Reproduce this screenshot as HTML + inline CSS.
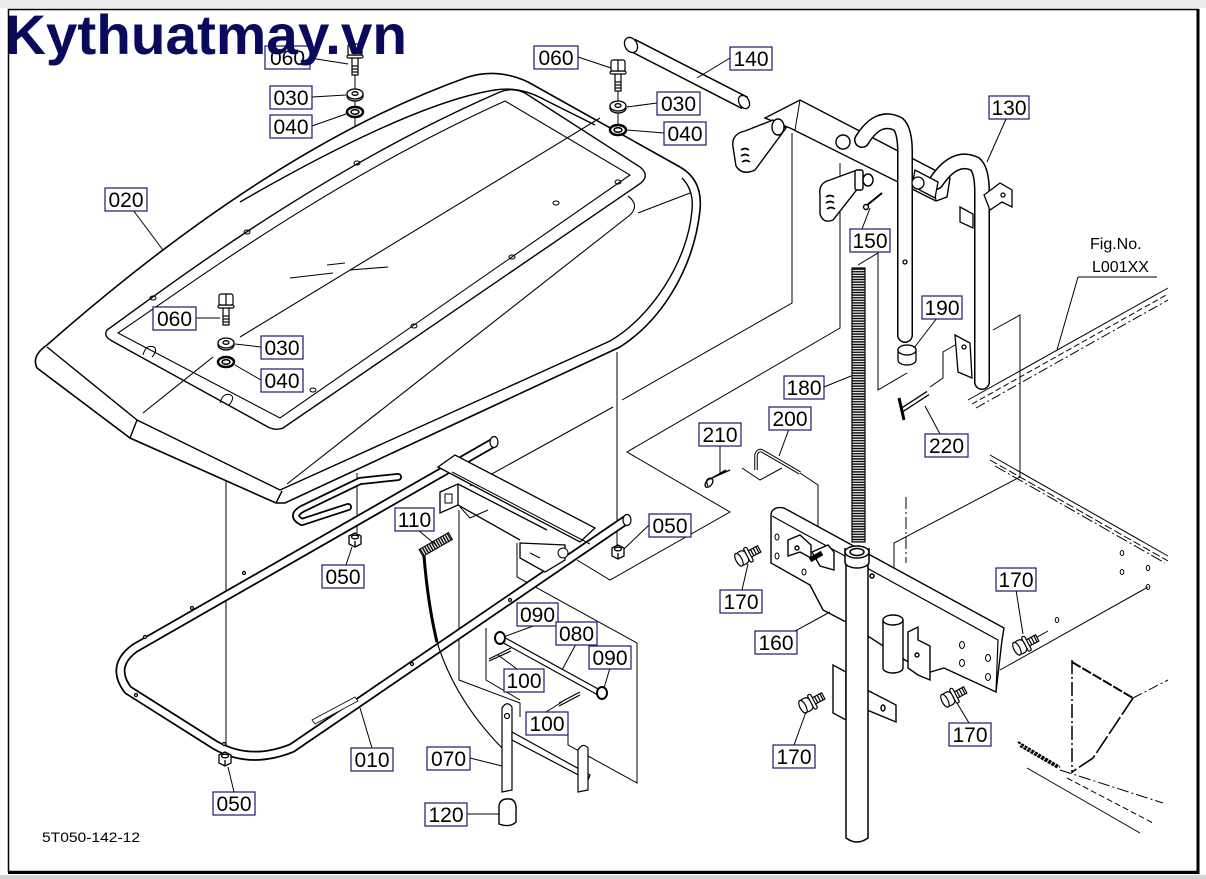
<!DOCTYPE html>
<html><head><meta charset="utf-8"><style>
html,body{margin:0;padding:0;background:#fff;}
svg{display:block;}
.l rect{fill:#fff;stroke:#1c1c6b;stroke-width:1.2}
.l text{font-family:"Liberation Sans",sans-serif;font-size:21px;text-anchor:middle;fill:#000}
</style></head><body>
<svg width="1206" height="879" viewBox="0 0 1206 879" xmlns="http://www.w3.org/2000/svg">
<defs>
<pattern id="coil" width="14" height="2.6" patternUnits="userSpaceOnUse"><line x1="0" y1="1.3" x2="14" y2="1.3" stroke="#000" stroke-width="1.4"/></pattern>
<pattern id="coilv" width="2.6" height="10" patternUnits="userSpaceOnUse"><line x1="1.3" y1="0" x2="1.3" y2="10" stroke="#000" stroke-width="1.4"/></pattern>
<g id="b060" stroke="#000" fill="#fff" stroke-width="1.2">
<rect x="-3" y="-2" width="6" height="18"/>
<line x1="-3" y1="7" x2="3" y2="7"/><line x1="-3" y1="10" x2="3" y2="10"/><line x1="-3" y1="13" x2="3" y2="13"/>
<rect x="-8" y="-4" width="16" height="3" rx="1.5"/>
<rect x="-7" y="-15" width="14" height="11" rx="2"/>
<line x1="0" y1="-15" x2="0" y2="-4"/>
</g>
<g id="w030" stroke="#000" fill="#fff" stroke-width="1.3">
<ellipse cx="0" cy="2" rx="8" ry="5"/><ellipse cx="0" cy="0" rx="8" ry="5"/><ellipse cx="0" cy="-0.5" rx="3" ry="1.8"/>
</g>
<g id="w040" stroke="#000" fill="#fff">
<ellipse cx="0" cy="0" rx="8" ry="5" stroke-width="2.5"/><ellipse cx="0" cy="0" rx="4" ry="2.2" stroke-width="1.5"/>
</g>
<g id="nut" stroke="#000" fill="#fff" stroke-width="1.3">
<path d="M-6,-4 L0,-7 L6,-4 L6,4 L0,7 L-6,4 Z"/><ellipse cx="0" cy="-3" rx="3.5" ry="1.8"/><line x1="0" y1="1" x2="0" y2="7"/>
</g>
<g id="b170" stroke="#000" fill="#fff" stroke-width="1.2">
<rect x="4" y="-3.5" width="11" height="7"/>
<line x1="7" y1="-3.5" x2="7" y2="3.5"/><line x1="10" y1="-3.5" x2="10" y2="3.5"/><line x1="13" y1="-3.5" x2="13" y2="3.5"/>
<rect x="1" y="-8" width="3.5" height="16" rx="1.5"/>
<rect x="-9" y="-7" width="10" height="14" rx="4"/>
<ellipse cx="-8" cy="0" rx="3" ry="7"/>
</g>
</defs>
<rect width="1206" height="879" fill="#fff"/>
<rect x="0" y="0" width="1206" height="8" fill="#ececec"/>
<rect x="0" y="875" width="1206" height="4" fill="#d4d4d4"/>
<g fill="none" stroke="#000">
<rect x="8.5" y="9.5" width="1189" height="862" stroke-width="1.5"/>
<line x1="1198" y1="9" x2="1198" y2="874" stroke-width="3"/>
<line x1="8" y1="872.5" x2="1199" y2="872.5" stroke-width="3"/>
</g>

<g fill="none" stroke="#000" stroke-width="1">
<polyline points="622,400 792,303 792,133"/>
<polyline points="840,163 840,328 627,452 730,512 610,580 577,560"/>
<line x1="613" y1="407" x2="470" y2="486"/>
<polyline points="858,265 878,253 878,390 907,373"/>
<polyline points="993,330 1020,315 1020,477 894,543 894,655"/>
<polyline points="930,387 943,378 943,352 955,345"/>
<polyline points="800,473 818,485 818,553"/>
<polyline points="742,468 760,480 782,468"/>
<polyline points="459,510 459,680 520,703 520,717"/>
<polyline points="486,628 486,680 520,700"/>
<polyline points="517,543 517,577 637,643 637,783 568,745 568,733"/>
<line x1="1000" y1="670" x2="1148" y2="587"/>
<line x1="1030" y1="641" x2="1048" y2="631"/>
<line x1="906" y1="497" x2="906" y2="563" stroke-dasharray="12 3 2 3"/>
<line x1="355" y1="70" x2="355" y2="163"/>
<line x1="618" y1="86" x2="618" y2="182"/>
<line x1="226" y1="320" x2="226" y2="395"/>
<line x1="617" y1="352" x2="617" y2="546"/>
<line x1="357" y1="473" x2="357" y2="533"/>
<line x1="226" y1="481" x2="226" y2="752"/>
</g>

<!-- HOOD 020 -->
<g stroke="#000" fill="none" stroke-width="1.4">
<path d="M47,345 C130,272 290,140 468,77 Q498,68 528,82 L680,167 Q703,180 700,210 C694,268 662,320 620,347 L285,503 L276,503 L130,438 L37,368 Q31,356 47,345 Z" fill="#fff" stroke-width="1.6"/>
<path d="M47,347 L137,420 L280,490 L610,341 C650,318 688,262 692,210 Q694,190 682,178"/>
<line x1="276" y1="503" x2="282" y2="491"/>
<line x1="130" y1="438" x2="137" y2="420"/>
<path d="M240,202 C330,150 430,100 495,90 Q520,86 545,100 L595,125"/>
<path d="M107,330 C170,285 320,170 500,92 Q512,87 525,93 L640,167 Q650,175 641,183 L283,428 Q276,431 268,427 L112,341 Q103,336 107,330 Z"/>
<path d="M118,333 C185,288 330,180 505,101 L630,175 L280,418 Z" stroke-width="1.1"/>
<path d="M287,484 L630,215 Q640,205 628,196" stroke-width="1.1"/>
<line x1="638" y1="213" x2="690" y2="193" stroke-width="1.1"/>
<line x1="143" y1="413" x2="213" y2="357" stroke-width="1.1"/>
<line x1="240" y1="337" x2="600" y2="118" stroke-width="1.1"/>
<line x1="290" y1="278" x2="333" y2="273" stroke-width="1.1"/>
<line x1="327" y1="265" x2="345" y2="263" stroke-width="1.1"/>
<line x1="350" y1="270" x2="388" y2="267" stroke-width="1.1"/>
<g stroke-width="1"><ellipse cx="153" cy="298" rx="3" ry="2"/><ellipse cx="247" cy="232" rx="3" ry="2"/><ellipse cx="357" cy="163" rx="3" ry="2"/><ellipse cx="618" cy="182" rx="3" ry="2"/><ellipse cx="414" cy="326" rx="3" ry="2"/><ellipse cx="313" cy="390" rx="3" ry="2"/><ellipse cx="512" cy="257" rx="3" ry="2"/><ellipse cx="556" cy="203" rx="3" ry="2"/>
<path d="M143,355 Q146,344 154,347 Q158,350 152,357"/><path d="M220,403 Q223,392 231,395 Q235,398 229,405"/></g>
</g>

<!-- FRAME 010 -->
<g fill="none" stroke-linecap="round" stroke-linejoin="round">
<path d="M493,443 L135,648 Q110,666 128,690 L215,745 Q250,765 292,748 L626,520" stroke="#000" stroke-width="10"/>
<path d="M493,443 L135,648 Q110,666 128,690 L215,745 Q250,765 292,748 L626,520" stroke="#fff" stroke-width="6.5"/>
<path d="M398,477 L360,481 L302,509 Q290,516 302,522 L348,507" stroke="#000" stroke-width="8"/>
<path d="M398,477 L360,481 L302,509 Q290,516 302,522 L348,507" stroke="#fff" stroke-width="4.5"/>
</g>
<g stroke="#000" fill="#fff" stroke-width="1.2">
<ellipse cx="494" cy="442" rx="4" ry="5.5"/>
<ellipse cx="627" cy="520" rx="4" ry="5.5"/>
<path d="M312,720 L355,697 L358,701 L315,724 Z" stroke-width="0.8"/>
<circle cx="145" cy="637" r="1.5"/><circle cx="192" cy="608" r="1.5"/><circle cx="136" cy="695" r="1.5"/><circle cx="224" cy="744" r="1.5"/><circle cx="412" cy="664" r="1.5"/><circle cx="510" cy="600" r="1.5"/><circle cx="244" cy="573" r="1.5"/>
</g>

<!-- crossbar bracket -->
<g stroke="#000" fill="#fff" stroke-width="1.3">
<path d="M438,467 L455,455 L595,528 L580,542 Z"/>
<line x1="452" y1="472" x2="590" y2="544" stroke-width="1"/>
<path d="M440,492 L458,484 L458,505 L440,513 Z"/>
<rect x="445" y="494" width="7" height="9" stroke-width="1"/>
<path d="M458,484 L547,530 M458,505 L520,540" fill="none"/>
<path d="M460,507 L470,518 L488,510" fill="none" stroke-width="1"/>
<path d="M520,543 L520,558 L545,572 L565,560 L565,545 Z"/>
<line x1="530" y1="553" x2="540" y2="558" stroke-width="1"/>
<circle cx="563" cy="553" r="5" stroke-width="1"/>
</g>

<!-- spring 110 and cable -->
<g transform="translate(421,553) rotate(-30)"><rect x="0" y="-4" width="34" height="8" fill="url(#coilv)" stroke="#000"/></g>
<path d="M424,556 Q428,605 437,642" fill="none" stroke="#000" stroke-width="3"/>
<path d="M437,642 Q455,700 502,748" fill="none" stroke="#000" stroke-width="1.2"/>

<!-- rod 080, washers 090, pins 100, lever -->
<g stroke="#000" fill="#fff" stroke-width="1.2">
<path d="M500,635 L600,690 L598,695 L498,640 Z"/>
<ellipse cx="500" cy="638" rx="5" ry="6" stroke-width="2"/>
<ellipse cx="602" cy="693" rx="5" ry="6" stroke-width="2"/>
<path d="M489,659 L511,648 M489,661 L511,651" fill="none"/>
<path d="M559,703 L580,692 M559,706 L580,695" fill="none"/>
<path d="M502,708 Q507,700 512,707 L512,790 L502,792 Z"/>
<circle cx="507" cy="716" r="2.5"/>
<path d="M512,732 L590,775 L588,780 L512,740 Z"/>
<path d="M578,750 Q583,742 588,748 L588,790 L578,792 Z"/>
<path d="M499,806 Q500,798 510,799 Q517,800 516,812 L516,822 Q510,828 499,824 Z" stroke-width="1.4"/>
</g>

<use href="#nut" x="355" y="540"/>
<use href="#nut" x="618" y="552"/>
<use href="#nut" x="225" y="759"/>

<use href="#b060" x="355" y="59"/>
<use href="#w030" x="355" y="94"/>
<use href="#w040" x="355" y="112"/>
<use href="#b060" x="618" y="75"/>
<use href="#w030" x="618" y="106"/>
<use href="#w040" x="618" y="130"/>
<use href="#b060" x="226" y="309"/>
<use href="#w030" x="226" y="343"/>
<use href="#w040" x="226" y="362"/>

<!-- pin 140 -->
<g fill="none" stroke-linecap="butt">
<path d="M632,45 L745,103" stroke="#000" stroke-width="14"/>
<path d="M632,45 L745,103" stroke="#fff" stroke-width="11"/>
</g>
<g stroke="#000" fill="#fff" stroke-width="1.3">
<ellipse cx="631" cy="45" rx="6" ry="8" transform="rotate(-30 631 45)"/>
<ellipse cx="744" cy="102" rx="5" ry="7" transform="rotate(-30 744 102)"/>
</g>

<!-- top bracket -->
<g stroke="#000" fill="#fff" stroke-width="1.4">
<path d="M765,118 L800,100 L950,178 L947,197 L936,201 L790,128 Z"/>
<line x1="800" y1="100" x2="795" y2="130" stroke-width="1"/>
<path d="M936,201 L934,182 L948,177" fill="none" stroke-width="1"/>
<circle cx="843" cy="142" r="7"/>
<path d="M733,147 Q731,134 745,131 L773,120 L786,128 L755,170 Q742,176 736,166 Z"/>
<path d="M741,150 q4,-3 8,0 M741,156 q4,-3 8,0 M742,162 q4,-3 8,0" fill="none" stroke-width="1.6"/>
<ellipse cx="778" cy="127" rx="6" ry="8"/>
<path d="M820,195 Q818,183 830,180 L857,170 L866,178 L833,220 Q823,224 820,214 Z"/>
<path d="M826,197 q4,-3 8,0 M826,203 q4,-3 8,0 M827,209 q4,-3 8,0" fill="none" stroke-width="1.6"/>
<rect x="855" y="170" width="8" height="20" rx="2"/>
<ellipse cx="868" cy="180" rx="5" ry="6"/>
<path d="M866,206 L882,193" stroke-width="2"/>
<circle cx="866" cy="207" r="2.5"/>
</g>

<!-- handle 130 tubes -->
<g fill="none" stroke-linecap="round">
<path d="M862,140 Q878,114 898,124 Q905,130 905,152 L905,335" stroke="#000" stroke-width="16"/>
<path d="M862,140 Q878,114 898,124 Q905,130 905,152 L905,335" stroke="#fff" stroke-width="13"/>
<path d="M936,182 Q955,154 975,164 Q982,170 982,192 L982,382" stroke="#000" stroke-width="16"/>
<path d="M936,182 Q955,154 975,164 Q982,170 982,192 L982,382" stroke="#fff" stroke-width="13"/>
</g>
<g stroke="#000" fill="#fff" stroke-width="1.3">
<path d="M915,170 L938,182 L935,198 L912,186 Z"/>
<circle cx="918" cy="183" r="6"/>
<path d="M984,195 L1000,183 L1012,190 L1012,207 L1002,202 L990,210 Z"/>
<circle cx="1003" cy="195" r="2"/>
<path d="M960,207 L973,214 L973,228 L960,222 Z"/>
<circle cx="905" cy="262" r="2" />
<path d="M898,350 A9,5 0 0 1 916,350 L916,360 A9,5 0 0 1 898,360 Z"/>
<ellipse cx="907" cy="350" rx="9" ry="5"/>
<path d="M955,335 L970,343 L972,378 L958,372 Z"/>
<circle cx="964" cy="347" r="2"/>
<path d="M902,410 L928,393" stroke-width="5"/>
<path d="M902,410 L928,393" stroke="#fff" stroke-width="2.5"/>
<path d="M899,398 L904,420" stroke-width="3"/>
</g>

<rect x="852" y="268" width="13" height="274" fill="url(#coil)" stroke="#000" stroke-width="1.2"/>

<!-- plate 160 -->
<g stroke="#000" fill="#fff" stroke-width="1.4">
<path d="M771,514 Q773,506 784,508 L1004,628 L1002,640 L996,692 L944,668 L927,673 L905,660 L846,622 L823,610 L810,585 L771,563 Z"/>
<line x1="772" y1="516" x2="998" y2="640" stroke-width="1.2"/>
<line x1="998" y1="640" x2="996" y2="692" stroke-width="1.2"/>
<g stroke-width="1"><ellipse cx="777" cy="537" rx="2" ry="3"/><ellipse cx="777" cy="556" rx="2" ry="3"/><ellipse cx="804" cy="572" rx="2" ry="3"/><ellipse cx="962" cy="645" rx="2.5" ry="3.5"/><ellipse cx="962" cy="663" rx="2.5" ry="3.5"/><ellipse cx="988" cy="658" rx="2.5" ry="3.5"/><ellipse cx="988" cy="677" rx="2.5" ry="3.5"/></g>
<path d="M788,540 L800,535 L811,545 L811,558 L800,552 L788,556 Z"/>
<circle cx="797" cy="548" r="2"/>
<path d="M812,552 L828,545 L834,552 L834,570 L820,566 Z"/>
<path d="M810,560 L822,553" stroke-width="5"/>
<path d="M908,632 L918,627 L918,640 L930,646 L930,680 L918,675 L908,668 Z"/>
<circle cx="917" cy="655" r="2"/>
<path d="M833,665 L846,672 L846,720 L833,713 Z"/>
<path d="M867,690 L896,705 L896,722 L867,710 Z"/>
<ellipse cx="883" cy="708" rx="2" ry="3"/>
<path d="M883,620 L883,668 A10,5 0 0 0 903,668 L903,620"/>
<ellipse cx="893" cy="620" rx="10" ry="5"/>
</g>
<g stroke="#000" fill="#fff" stroke-width="1.5">
<path d="M846,556 L846,838 Q857,846 868,838 L868,556"/>
<path d="M845,548 L845,562 A12,6 0 0 0 869,562 L869,548"/>
<ellipse cx="857" cy="552" rx="12" ry="6"/>
<ellipse cx="857" cy="552" rx="7" ry="3.5"/>
<circle cx="872" cy="576" r="2"/>
</g>

<g stroke="#000" fill="none" stroke-width="1.3">
<path d="M756,470 L756,455 Q758,448 764,452 L800,473" stroke-width="3.5"/>
<path d="M756,470 L756,455 Q758,448 764,452 L800,473" stroke="#fff" stroke-width="1.5"/>
<path d="M708,486 Q704,478 712,478 L730,470 M712,478 L726,470"/>
<ellipse cx="709" cy="483" rx="3" ry="5" transform="rotate(40 709 483)"/>
</g>

<use href="#b170" transform="translate(746,556) rotate(-28)"/>
<use href="#b170" transform="translate(810,703) rotate(-28)"/>
<use href="#b170" transform="translate(952,697) rotate(-28)"/>
<use href="#b170" transform="translate(1024,645) rotate(-28)"/>

<g stroke="#000" fill="none" stroke-width="1">
<line x1="968" y1="400" x2="1168" y2="288"/>
<line x1="972" y1="404" x2="1168" y2="294" stroke-dasharray="6 3"/>
<line x1="976" y1="408" x2="1168" y2="300" stroke-dasharray="10 3 2 3"/>
<line x1="990" y1="455" x2="1168" y2="556"/>
<line x1="990" y1="460" x2="1168" y2="561" stroke-dasharray="8 3"/>
<line x1="995" y1="466" x2="1165" y2="563" stroke-dasharray="12 3 2 3"/>
<ellipse cx="1122" cy="553" rx="1.8" ry="2.5"/><ellipse cx="1122" cy="572" rx="1.8" ry="2.5"/><ellipse cx="1148" cy="568" rx="1.8" ry="2.5"/><ellipse cx="1148" cy="587" rx="1.8" ry="2.5"/>
<ellipse cx="1057" cy="620" rx="1.8" ry="2.5"/>
<line x1="1072" y1="660" x2="1072" y2="773" stroke-dasharray="14 3 2 3" stroke-width="1.5"/>
<line x1="1072" y1="662" x2="1133" y2="698" stroke-dasharray="10 2" stroke-width="2"/>
<path d="M1133,698 L1093,758 L1072,772" stroke-width="1.6" stroke-dasharray="20 3"/>
<line x1="1133" y1="698" x2="1168" y2="680" stroke-dasharray="10 3 2 3"/>
<line x1="1027" y1="768" x2="1140" y2="833"/>
<line x1="1060" y1="770" x2="1163" y2="803" stroke-dasharray="12 3 2 3"/>
<line x1="1067" y1="778" x2="1153" y2="823" stroke-dasharray="6 3"/>
<path d="M1018,742 L1060,767 M1020,746 L1058,768" stroke-width="2" stroke-dasharray="3 1"/>
<line x1="1078" y1="277" x2="1157" y2="277"/>
<line x1="1078" y1="277" x2="1057" y2="350"/>
</g>

<g stroke="#000" fill="none" stroke-width="1">
<line x1="310" y1="58" x2="348" y2="64"/>
<line x1="312" y1="97" x2="346" y2="95"/>
<line x1="312" y1="126" x2="346" y2="114"/>
<line x1="578" y1="57" x2="611" y2="68"/>
<line x1="657" y1="103" x2="627" y2="107"/>
<line x1="664" y1="133" x2="627" y2="130"/>
<line x1="730" y1="58" x2="697" y2="78"/>
<line x1="1006" y1="119" x2="987" y2="162"/>
<line x1="133" y1="210" x2="163" y2="250"/>
<line x1="862" y1="229" x2="870" y2="208"/>
<line x1="196" y1="318" x2="220" y2="318"/>
<line x1="261" y1="347" x2="235" y2="344"/>
<line x1="261" y1="380" x2="235" y2="365"/>
<line x1="937" y1="318" x2="914" y2="348"/>
<line x1="824" y1="387" x2="851" y2="376"/>
<line x1="789" y1="429" x2="779" y2="456"/>
<line x1="720" y1="445" x2="720" y2="474"/>
<line x1="940" y1="434" x2="925" y2="406"/>
<line x1="418" y1="530" x2="436" y2="545"/>
<line x1="649" y1="525" x2="624" y2="549"/>
<line x1="346" y1="565" x2="352" y2="547"/>
<line x1="742" y1="590" x2="748" y2="564"/>
<line x1="1016" y1="590" x2="1023" y2="634"/>
<line x1="536" y1="625" x2="506" y2="636"/>
<line x1="576" y1="644" x2="562" y2="670"/>
<line x1="610" y1="668" x2="604" y2="688"/>
<line x1="775" y1="642" x2="830" y2="612"/>
<line x1="517" y1="669" x2="498" y2="655"/>
<line x1="546" y1="712" x2="562" y2="702"/>
<line x1="372" y1="748" x2="360" y2="708"/>
<line x1="470" y1="758" x2="502" y2="766"/>
<line x1="794" y1="745" x2="806" y2="712"/>
<line x1="969" y1="723" x2="957" y2="703"/>
<line x1="234" y1="792" x2="228" y2="767"/>
<line x1="467" y1="814" x2="499" y2="814"/>
</g>

<g class="l">
<rect x="265" y="46" width="45" height="23"/><text x="287.5" y="65">060</text>
<rect x="270" y="86" width="42" height="23"/><text x="291" y="105">030</text>
<rect x="270" y="115" width="42" height="23"/><text x="291" y="134">040</text>
<rect x="534" y="46" width="44" height="23"/><text x="556" y="65">060</text>
<rect x="730" y="47" width="42" height="23"/><text x="751" y="66">140</text>
<rect x="657" y="92" width="43" height="23"/><text x="678.5" y="111">030</text>
<rect x="664" y="122" width="42" height="23"/><text x="685" y="141">040</text>
<rect x="989" y="96" width="40" height="23"/><text x="1009" y="115">130</text>
<rect x="105" y="188" width="42" height="23"/><text x="126" y="207">020</text>
<rect x="850" y="229" width="40" height="23"/><text x="870" y="248">150</text>
<rect x="153" y="307" width="43" height="23"/><text x="174.5" y="326">060</text>
<rect x="261" y="336" width="42" height="23"/><text x="282" y="355">030</text>
<rect x="261" y="369" width="42" height="23"/><text x="282" y="388">040</text>
<rect x="922" y="296" width="40" height="23"/><text x="942" y="315">190</text>
<rect x="784" y="376" width="40" height="23"/><text x="804" y="395">180</text>
<rect x="769" y="407" width="42" height="23"/><text x="790" y="426">200</text>
<rect x="699" y="423" width="42" height="23"/><text x="720" y="442">210</text>
<rect x="925" y="434" width="43" height="23"/><text x="946.5" y="453">220</text>
<rect x="395" y="508" width="39" height="23"/><text x="414.5" y="527">110</text>
<rect x="649" y="514" width="42" height="23"/><text x="670" y="533">050</text>
<rect x="322" y="565" width="42" height="23"/><text x="343" y="584">050</text>
<rect x="720" y="590" width="42" height="23"/><text x="741" y="609">170</text>
<rect x="996" y="568" width="40" height="23"/><text x="1016" y="587">170</text>
<rect x="517" y="603" width="41" height="23"/><text x="537.5" y="622">090</text>
<rect x="556" y="622" width="41" height="23"/><text x="576.5" y="641">080</text>
<rect x="589" y="646" width="42" height="23"/><text x="610" y="665">090</text>
<rect x="755" y="631" width="42" height="23"/><text x="776" y="650">160</text>
<rect x="504" y="669" width="40" height="23"/><text x="524" y="688">100</text>
<rect x="526" y="712" width="42" height="23"/><text x="547" y="731">100</text>
<rect x="351" y="748" width="42" height="23"/><text x="372" y="767">010</text>
<rect x="427" y="747" width="43" height="23"/><text x="448.5" y="766">070</text>
<rect x="773" y="745" width="42" height="23"/><text x="794" y="764">170</text>
<rect x="949" y="723" width="42" height="23"/><text x="970" y="742">170</text>
<rect x="213" y="792" width="42" height="23"/><text x="234" y="811">050</text>
<rect x="425" y="803" width="42" height="23"/><text x="446" y="822">120</text>
</g>

<text x="1090" y="249" font-family="Liberation Sans, sans-serif" font-size="16" fill="#000">Fig.No.</text>
<text x="1092" y="272" font-family="Liberation Sans, sans-serif" font-size="16" fill="#000">L001XX</text>
<text x="42" y="842" font-family="Liberation Sans, sans-serif" font-size="14" fill="#000" textLength="98" lengthAdjust="spacingAndGlyphs">5T050-142-12</text>

<text x="5" y="54" font-family="Liberation Sans, sans-serif" font-weight="bold" font-size="56" fill="#0a0a5c" textLength="402" lengthAdjust="spacingAndGlyphs">Kythuatmay.vn</text>
</svg>
</body></html>
